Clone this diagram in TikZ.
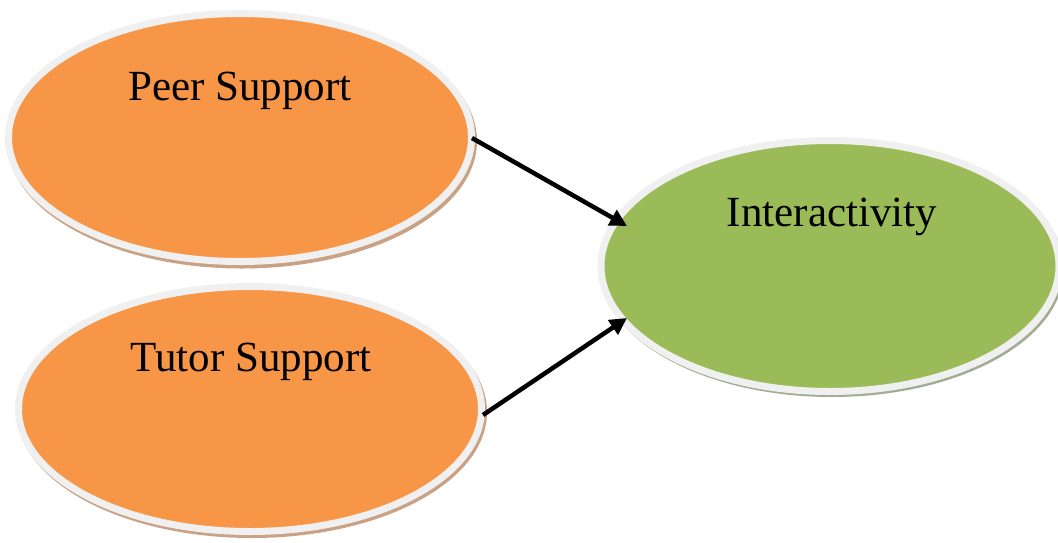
\documentclass[tikz,border=0pt]{standalone}
\usepackage{fontspec}
\setmainfont{Liberation Serif}
\usetikzlibrary{shapes.geometric,arrows.meta}
\definecolor{orangefill}{HTML}{F79646}
\definecolor{greenfill}{HTML}{9BBB59}
\definecolor{rimc}{HTML}{F0F0F0}
\definecolor{orangeshadow}{HTML}{C9A286}
\definecolor{greenshadow}{HTML}{A2AC94}
\tikzset{
  oval/.style={ellipse, draw=rimc, line width=7pt, inner sep=0pt},
  lbl/.style={anchor=base, font=\fontsize{43}{50}\selectfont, inner sep=0pt},
  arr/.style={line width=4.5pt, -{Triangle[length=17pt,width=17pt]}}
}
\begin{document}
\begin{tikzpicture}[x=1pt,y=-1pt]
\useasboundingbox (0,0) rectangle (1058,542);
% shadows
\fill[orangeshadow] (242,141) ellipse [x radius=235, y radius=127.5];
\fill[orangeshadow] (252,412) ellipse [x radius=235, y radius=126];
\fill[greenshadow] (832,269) ellipse [x radius=232, y radius=128];
% ellipses
\node[oval, fill=orangefill, minimum width=463, minimum height=248] (peer) at (240,137.5) {};
\node[oval, fill=orangefill, minimum width=463, minimum height=245] (tutor) at (250,409) {};
\node[oval, fill=greenfill, minimum width=458, minimum height=251] (inter) at (830,266) {};
% labels
\node[lbl] (peerl) at (240,100) {Peer Support};
\node[lbl] (tutorl) at (251,371) {Tutor Support};
\node[lbl] (interl) at (832,226) {Interactivity};
% arrows
\coordinate (a1s) at (472,138);
\coordinate (a1e) at (627,226);
\coordinate (a2s) at (483,415);
\coordinate (a2e) at (627,318);
\draw[arr] (a1s) -- (a1e);
\draw[arr] (a2s) -- (a2e);
\end{tikzpicture}
\end{document}
